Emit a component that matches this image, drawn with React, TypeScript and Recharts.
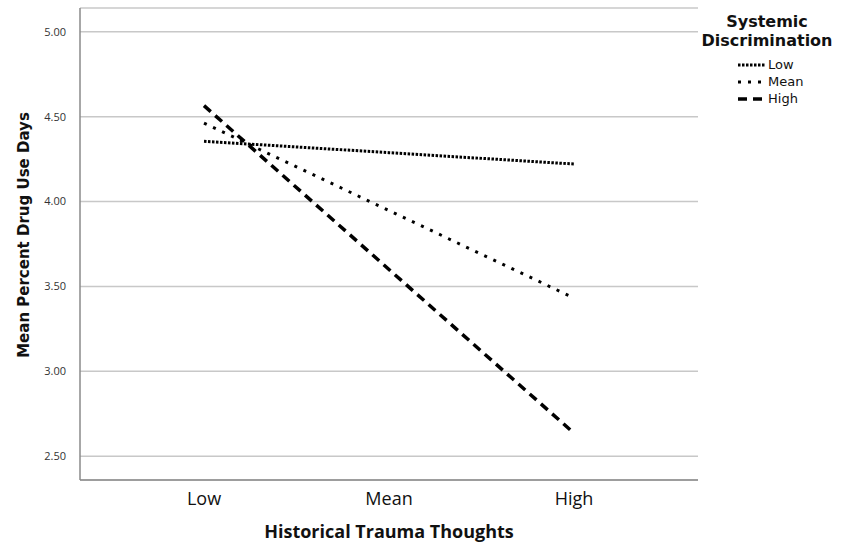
import React from "react";
import { CartesianGrid, Line, LineChart, XAxis, YAxis, Label } from "recharts";

const categories = ["Low", "Mean", "High"];
const lowSD = [4.355, 4.288, 4.221];
const meanSD = [4.462, 3.947, 3.432];
const highSD = [4.565, 3.6, 2.636];
const yTicks = [2.5, 3.0, 3.5, 4.0, 4.5, 5.0];

const data = categories.map((name, i) => ({
  name,
  Low: lowSD[i],
  Mean: meanSD[i],
  High: highSD[i],
}));

const series = [
  { key: "Low", dash: "2.5 1.5", width: 3 },
  { key: "Mean", dash: "3 7", width: 3 },
  { key: "High", dash: "9 6", width: 3.5 },
];

const tickFont = "'Open Sans', sans-serif";
const titleFont = "'DejaVu Sans', sans-serif";

function LegendBox() {
  return (
    <div
      style={{
        position: "absolute",
        left: 692,
        top: 12,
        width: 150,
        fontFamily: titleFont,
        color: "#111",
      }}
    >
      <div style={{ fontWeight: 700, fontSize: 16, lineHeight: "19px", textAlign: "center" }}>
        Systemic
        <br />
        Discrimination
      </div>
      <div style={{ marginTop: 6, marginLeft: 46 }}>
        {series.map((s) => (
          <div key={s.key} style={{ display: "flex", alignItems: "center", height: 17 }}>
            <svg width={28} height={10}>
              <line x1={0} y1={5} x2={28} y2={5} stroke="#000" strokeWidth={s.width} strokeDasharray={s.dash} />
            </svg>
            <span style={{ fontSize: 13, marginLeft: 2 }}>{s.key}</span>
          </div>
        ))}
      </div>
    </div>
  );
}

const YTitle = () => (
  <text
    x={24}
    y={235}
    transform="rotate(-90 24 235)"
    textAnchor="middle"
    dominantBaseline="central"
    style={{ fill: "#111", fontSize: 15, fontWeight: 700, fontFamily: titleFont }}
  >
    Mean Percent Drug Use Days
  </text>
);

export default function App() {
  return (
    <div style={{ position: "absolute", left: 0, top: 0, width: 842, height: 544, background: "#fff" }}>
      <LineChart width={842} height={544} data={data} margin={{ top: 8, right: 144, bottom: 0, left: 0 }}>
        <CartesianGrid vertical={false} stroke="#c8c8c8" strokeWidth={1.5} />
        <XAxis
          dataKey="name"
          padding={{ left: 124, right: 124 }}
          height={64}
          tickLine={false}
          axisLine={{ stroke: "#8a8a8a", strokeWidth: 1.5 }}
          tick={{ fill: "#111", fontSize: 18, fontFamily: tickFont }}
          tickMargin={6}
        >
          <Label
            value="Historical Trauma Thoughts"
            position="insideBottom"
            offset={6}
            style={{ fill: "#111", fontSize: 18, fontWeight: 700, fontFamily: "'Open Sans', sans-serif" }}
          />
        </XAxis>
        <YAxis
          width={80}
          type="number"
          domain={[2.36, 5.14]}
          ticks={yTicks}
          interval={0}
          tickFormatter={(v: number) => v.toFixed(2)}
          tickLine={false}
          axisLine={{ stroke: "#8a8a8a", strokeWidth: 1.5 }}
          tick={{ fill: "#333", fontSize: 11, fontFamily: tickFont }}
          tickMargin={8}
        >
          <Label content={YTitle} />
        </YAxis>
        {series.map((s) => (
          <Line
            key={s.key}
            dataKey={s.key}
            type="linear"
            stroke="#000"
            strokeWidth={s.width}
            strokeDasharray={s.dash}
            dot={false}
            activeDot={false}
            isAnimationActive={false}
          />
        ))}
      </LineChart>
      <LegendBox />
    </div>
  );
}
